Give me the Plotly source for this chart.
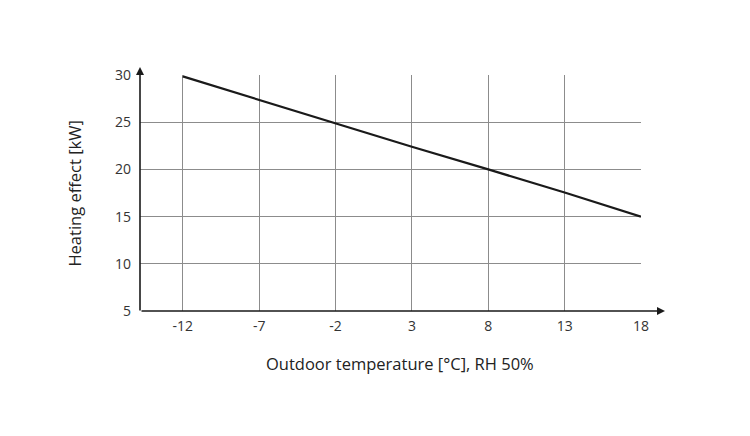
import plotly.graph_objects as go

temps = [-12, -7, -2, 3, 8, 13, 18]
heating_kw = [29.85, 27.35, 24.85, 22.4, 20.0, 17.55, 15.0]
y_ticks = [5, 10, 15, 20, 25, 30]

grid_col = '#8c8c8c'
txt_col = '#333333'

fig = go.Figure()
fig.add_trace(go.Scatter(
    x=temps, y=heating_kw, mode='lines',
    line=dict(color='#1a1a1a', width=2.2), showlegend=False,
    hoverinfo='skip'
))

fig.update_xaxes(
    range=[-14.8, 18], tickvals=temps, ticktext=[str(t) for t in temps],
    showgrid=True, gridcolor=grid_col, gridwidth=1,
    showline=False, zeroline=False, ticks='', ticklabelstandoff=5,
    tickfont=dict(family='Open Sans', size=14, color=txt_col)
)
fig.update_yaxes(
    range=[5, 30], tickvals=y_ticks,
    showgrid=True, gridcolor=grid_col, gridwidth=1,
    showline=False, zeroline=False, ticks='', ticklabelstandoff=8,
    tickfont=dict(family='Open Sans', size=14, color=txt_col)
)

# axis lines with arrow heads
fig.add_annotation(x=1 + 24 / 501, y=0, xref='paper', yref='paper',
                   ax=-525, ay=0, axref='pixel', ayref='pixel',
                   showarrow=True, arrowhead=2, arrowsize=1, arrowwidth=1.6,
                   arrowcolor='#1a1a1a', text='')
fig.add_annotation(x=0, y=1 + 8 / 236.5, xref='paper', yref='paper',
                   ax=0, ay=245, showarrow=True, arrowhead=2, arrowsize=1,
                   arrowwidth=1.6, arrowcolor='#1a1a1a', text='')

# axis titles
fig.add_annotation(x=0.519, y=-0.222, xref='paper', yref='paper',
                   text='Outdoor temperature [°C], RH 50%', showarrow=False,
                   xanchor='center', yanchor='middle',
                   font=dict(family='Open Sans', size=16.5, color='#222222'))
fig.add_annotation(x=-0.13, y=0.497, xref='paper', yref='paper',
                   text='Heating effect [kW]', showarrow=False, textangle=-90,
                   xanchor='center', yanchor='middle',
                   font=dict(family='Open Sans', size=16.5, color='#222222'))

fig.update_layout(
    width=750, height=436,
    margin=dict(l=132, r=117, t=67, b=132.5),
    plot_bgcolor='#FFFFFF', paper_bgcolor='#FFFFFF'
)

fig.write_html("out.html")
